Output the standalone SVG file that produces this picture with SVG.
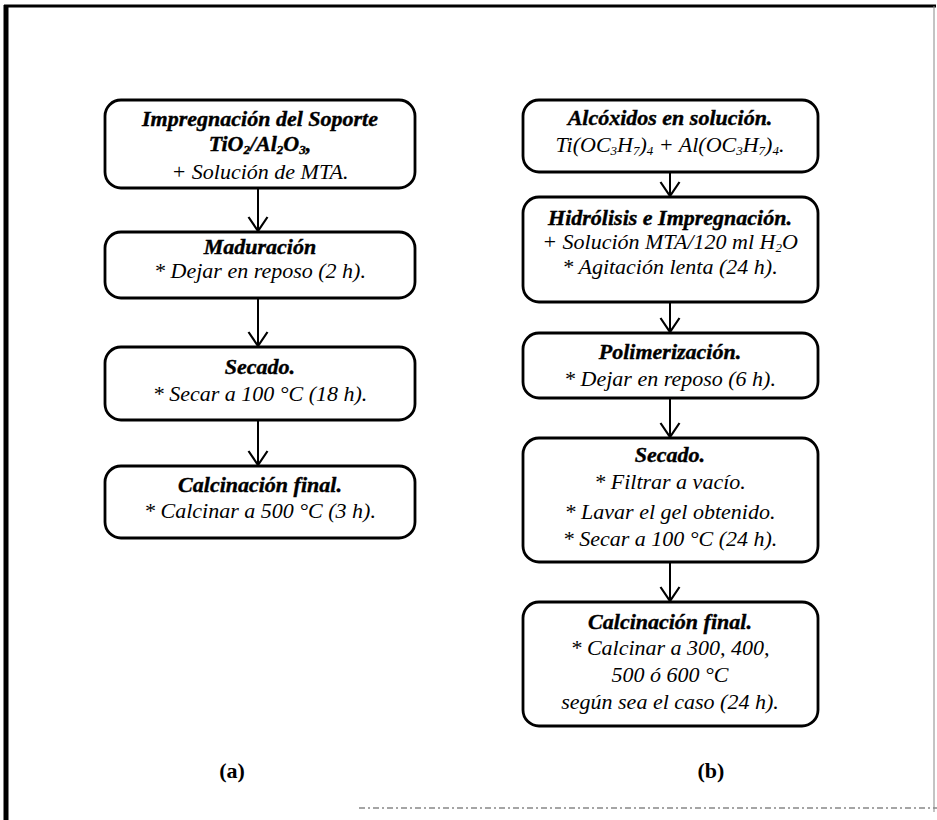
<svg xmlns="http://www.w3.org/2000/svg" width="937" height="820" viewBox="0 0 937 820">
<defs>
<style>
.box{fill:#fff;stroke:#000;stroke-width:2.8}
.t{font-family:"Liberation Serif","Times New Roman",serif;font-size:22px;font-style:italic;text-anchor:middle;fill:#000}
.b{font-weight:bold;stroke:#000;stroke-width:0.4}
.lab{font-family:"Liberation Serif","Times New Roman",serif;font-size:22px;font-weight:bold;text-anchor:middle;fill:#000}
.con line{stroke:#000;stroke-width:2}
.sub{font-size:13px}
</style>
<marker id="v" markerWidth="18" markerHeight="22" refX="15" refY="11" orient="auto" markerUnits="userSpaceOnUse" viewBox="0 0 18 22">
<path d="M1,1.5 L15,11 L1,20.5" fill="none" stroke="#000" stroke-width="2.2"/>
</marker>
</defs>
<rect width="937" height="820" fill="#fff"/>
<g id="frame">
<line x1="6" y1="5" x2="6" y2="820" stroke="#000" stroke-width="5"/>
<line x1="4" y1="6" x2="936" y2="6" stroke="#000" stroke-width="3"/>
<line x1="934" y1="6" x2="934" y2="812" stroke="#888" stroke-width="1"/>
<line x1="359" y1="808" x2="937" y2="808" stroke="#888" stroke-width="1.5" stroke-dasharray="6,3,2,3"/>
</g>
<g class="con">
<line x1="258" y1="188" x2="258" y2="231" marker-end="url(#v)"/>
<line x1="258" y1="298" x2="258" y2="346" marker-end="url(#v)"/>
<line x1="258" y1="420" x2="258" y2="465" marker-end="url(#v)"/>
<line x1="670" y1="172" x2="670" y2="196" marker-end="url(#v)"/>
<line x1="670" y1="302" x2="670" y2="332" marker-end="url(#v)"/>
<line x1="670" y1="398" x2="670" y2="437" marker-end="url(#v)"/>
<line x1="670" y1="562" x2="670" y2="601" marker-end="url(#v)"/>
</g>
<g id="a1">
<rect class="box" x="105" y="100" width="310" height="88" rx="16"/>
<text class="t b" x="260" y="126">Impregnación del Soporte</text>
<text class="t b" x="260" y="151">TiO<tspan class="sub" dy="3">2</tspan><tspan dy="-3">/Al</tspan><tspan class="sub" dy="3">2</tspan><tspan dy="-3">O</tspan><tspan class="sub" dy="3">3</tspan><tspan dy="-3">,</tspan></text>
<text class="t" x="260" y="179">+ Solución de MTA.</text>
</g>
<g id="a2">
<rect class="box" x="105" y="232" width="310" height="66" rx="16"/>
<text class="t b" x="260" y="254">Maduración</text>
<text class="t" x="260" y="278">* Dejar en reposo (2 h).</text>
</g>
<g id="a3">
<rect class="box" x="105" y="347" width="310" height="73" rx="16"/>
<text class="t b" x="260" y="374">Secado.</text>
<text class="t" x="260" y="401">* Secar a 100 °C (18 h).</text>
</g>
<g id="a4">
<rect class="box" x="105" y="466" width="310" height="72" rx="16"/>
<text class="t b" x="260" y="492">Calcinación final.</text>
<text class="t" x="260" y="518">* Calcinar a 500 °C (3 h).</text>
</g>
<g id="b1">
<rect class="box" x="523" y="100" width="295" height="72" rx="16"/>
<text class="t b" x="670" y="125">Alcóxidos en solución.</text>
<text class="t" x="670" y="152">Ti(OC<tspan class="sub" dy="3">3</tspan><tspan dy="-3">H</tspan><tspan class="sub" dy="3">7</tspan><tspan dy="-3">)</tspan><tspan class="sub" dy="3">4</tspan><tspan dy="-3"> + Al(OC</tspan><tspan class="sub" dy="3">3</tspan><tspan dy="-3">H</tspan><tspan class="sub" dy="3">7</tspan><tspan dy="-3">)</tspan><tspan class="sub" dy="3">4</tspan><tspan dy="-3">.</tspan></text>
</g>
<g id="b2">
<rect class="box" x="523" y="197" width="295" height="105" rx="16"/>
<text class="t b" x="670" y="225">Hidrólisis e Impregnación.</text>
<text class="t" x="670" y="249">+ Solución MTA/120 ml H<tspan class="sub" dy="3">2</tspan><tspan dy="-3">O</tspan></text>
<text class="t" x="670" y="274">* Agitación lenta (24 h).</text>
</g>
<g id="b3">
<rect class="box" x="523" y="333" width="295" height="65" rx="16"/>
<text class="t b" x="670" y="359">Polimerización.</text>
<text class="t" x="670" y="386">* Dejar en reposo (6 h).</text>
</g>
<g id="b4">
<rect class="box" x="523" y="438" width="295" height="124" rx="16"/>
<text class="t b" x="670" y="462">Secado.</text>
<text class="t" x="670" y="489">* Filtrar a vacío.</text>
<text class="t" x="670" y="519">* Lavar el gel obtenido.</text>
<text class="t" x="670" y="546">* Secar a 100 °C (24 h).</text>
</g>
<g id="b5">
<rect class="box" x="523" y="602" width="295" height="124" rx="16"/>
<text class="t b" x="670" y="629">Calcinación final.</text>
<text class="t" x="670" y="655">* Calcinar a 300, 400,</text>
<text class="t" x="670" y="682">500 ó 600 °C</text>
<text class="t" x="670" y="709">según sea el caso (24 h).</text>
</g>
<g id="labels">
<text class="lab" x="232" y="778">(a)</text>
<text class="lab" x="711" y="778">(b)</text>
</g>
</svg>
